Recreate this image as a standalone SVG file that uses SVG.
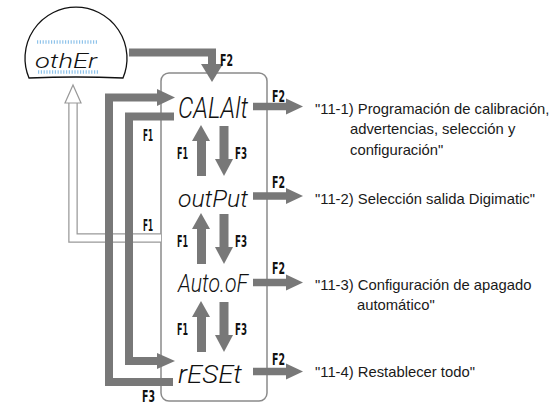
<svg xmlns="http://www.w3.org/2000/svg" xmlns:xlink="http://www.w3.org/1999/xlink" width="556" height="405" viewBox="0 0 556 405">
<style>
.bar{fill:none;stroke:#787878;stroke-width:8;stroke-linejoin:miter}
.hd{fill:#787878}
.lbl{font-family:"DejaVu Sans Condensed","DejaVu Sans",sans-serif;font-stretch:condensed;font-weight:bold;font-size:16.5px;fill:#111}
.seg{font-family:Roboto,"DejaVu Sans",sans-serif;font-style:italic;font-weight:300;fill:#111}
.desc{font-family:"Liberation Sans",Arial,sans-serif;font-size:14.8px;fill:#1a1a1a}
.tick{stroke:#8fc3ea;stroke-width:3.5;stroke-dasharray:1.2 1.6}
</style>
<defs>
<g id="updown">
<rect x="197" y="15" width="9" height="36" class="hd"/>
<polygon points="192,16 210,16 201,0" class="hd"/>
<rect x="219.5" y="1" width="9" height="34" class="hd"/>
<polygon points="215,34 233,34 224,51" class="hd"/>
</g>
<g id="right">
<rect x="253" y="-3.75" width="34" height="7.5" class="hd"/>
<polygon points="286,-8 286,8 303,0" class="hd"/>
</g>
</defs>
<rect width="556" height="405" fill="#fff"/>

<g id="menu">
<rect x="161" y="73" width="106" height="328" rx="8" fill="none" stroke="#8a8a8a" stroke-width="1.5"/>
</g>

<g id="other">
<path d="M29,78 A51,51 0 1 1 123,78 Q76,76 29,78 Z" fill="#fff" stroke="#111" stroke-width="1.3"/>
<line x1="37" y1="42" x2="97" y2="42" class="tick"/>
<line x1="38" y1="72" x2="98" y2="72" class="tick"/>
<text x="35" y="68" class="seg" font-size="21" textLength="62" lengthAdjust="spacingAndGlyphs">othEr</text>
</g>

<g id="connectors">
<path d="M73,103 V238 H161" fill="none" stroke="#999" stroke-width="9.5"/>
<path d="M73,103 V238 H161" fill="none" stroke="#fff" stroke-width="7"/>
<polygon points="65,103 81,103 73,85" fill="#fff" stroke="#999" stroke-width="1.2"/>
<path d="M129,52.5 H212 V65" class="bar" stroke-width="7.5"/>
<polygon points="201,64 223,64 212,82" class="hd"/>
<path d="M173,382 H109 V97.5 H158" class="bar"/>
<polygon points="157,89 157,106 175,97.5" class="hd"/>
<path d="M174,116.5 H129 V361 H158" class="bar"/>
<polygon points="157,353 157,369 175,361" class="hd"/>
<use xlink:href="#updown" y="125"/>
<use xlink:href="#updown" y="213"/>
<use xlink:href="#updown" y="301"/>
<use xlink:href="#right" y="106.5"/>
<use xlink:href="#right" y="196"/>
<use xlink:href="#right" y="282.5"/>
<use xlink:href="#right" y="371.5"/>
<text x="220" y="66" class="lbl" textLength="13" lengthAdjust="spacingAndGlyphs">F2</text>
<text x="143" y="140.5" class="lbl" textLength="10" lengthAdjust="spacingAndGlyphs">F1</text>
<text x="143" y="230.5" class="lbl" textLength="10" lengthAdjust="spacingAndGlyphs">F1</text>
<text x="142" y="401.5" class="lbl" textLength="13" lengthAdjust="spacingAndGlyphs">F3</text>
<text x="177" y="158.5" class="lbl" textLength="11" lengthAdjust="spacingAndGlyphs">F1</text>
<text x="235" y="158.5" class="lbl" textLength="12" lengthAdjust="spacingAndGlyphs">F3</text>
<text x="177" y="246.5" class="lbl" textLength="11" lengthAdjust="spacingAndGlyphs">F1</text>
<text x="235" y="246.5" class="lbl" textLength="12" lengthAdjust="spacingAndGlyphs">F3</text>
<text x="177" y="334.5" class="lbl" textLength="11" lengthAdjust="spacingAndGlyphs">F1</text>
<text x="235" y="334.5" class="lbl" textLength="12" lengthAdjust="spacingAndGlyphs">F3</text>
<text x="272" y="101.5" class="lbl" textLength="13" lengthAdjust="spacingAndGlyphs">F2</text>
<text x="272" y="187.5" class="lbl" textLength="13" lengthAdjust="spacingAndGlyphs">F2</text>
<text x="272" y="273.5" class="lbl" textLength="13" lengthAdjust="spacingAndGlyphs">F2</text>
<text x="272" y="364.5" class="lbl" textLength="13" lengthAdjust="spacingAndGlyphs">F2</text>
</g>

<g id="calalt"><text x="178" y="118" class="seg" font-size="29" textLength="70" lengthAdjust="spacingAndGlyphs">CALAlt</text></g>
<g id="output"><text x="178" y="207" class="seg" font-size="24" textLength="70" lengthAdjust="spacingAndGlyphs">outPut</text></g>
<g id="autooff"><text x="178" y="292" class="seg" font-size="26" textLength="70" lengthAdjust="spacingAndGlyphs">Auto.oF</text></g>
<g id="reset"><text x="178" y="383" class="seg" font-size="26" textLength="64" lengthAdjust="spacingAndGlyphs">rESEt</text></g>

<g id="desc1" class="desc">
<text x="315" y="113.5">"11-1) Programación de calibración,</text>
<text x="350" y="134">advertencias, selección y</text>
<text x="350" y="154.5">configuración"</text>
</g>
<g id="desc2" class="desc"><text x="315" y="204">"11-2) Selección salida Digimatic"</text></g>
<g id="desc3" class="desc">
<text x="315" y="289.5">"11-3) Configuración de apagado</text>
<text x="357" y="310">automático"</text>
</g>
<g id="desc4" class="desc"><text x="315" y="377">"11-4) Restablecer todo"</text></g>
</svg>
